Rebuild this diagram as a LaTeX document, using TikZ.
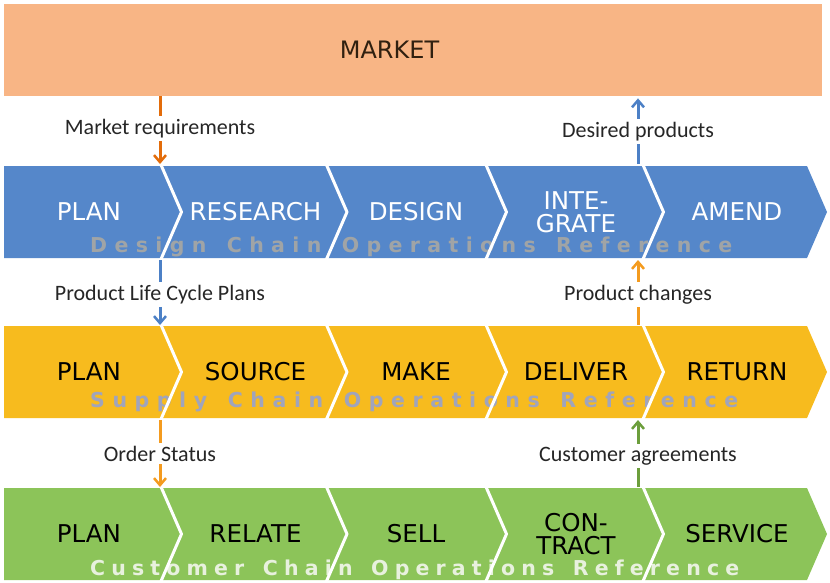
\documentclass[tikz,border=0pt]{standalone}
\usepackage{fontspec}
\setmainfont{Carlito}
\newfontfamily\stagefont{DejaVu Sans}
\newfontfamily\wmfont{DejaVu Sans}[WordSpace=1.4]
\usetikzlibrary{arrows.meta}
\definecolor{marketbg}{HTML}{F8B585}
\definecolor{designbg}{HTML}{5587CA}
\definecolor{supplybg}{HTML}{F7BB1E}
\definecolor{customerbg}{HTML}{8CC459}
\definecolor{wmdesign}{HTML}{A0A4A6}
\definecolor{wmsupply}{HTML}{A0A4BC}
\definecolor{wmcustomer}{HTML}{E8F1DE}
\definecolor{mreqc}{HTML}{E36C0A}
\definecolor{bluearrow}{HTML}{4C80C6}
\definecolor{amberarrow}{HTML}{F49B1F}
\definecolor{greenarrow}{HTML}{6C9E3C}
\begin{document}
\begin{tikzpicture}[x=1pt, y=-1pt, line join=round,
	flow/.style={line width=3pt, -{Straight Barb[length=7pt, width=12pt, line width=2.5pt]}},
	lbl/.style={font=\fontsize{22}{22}\selectfont, text=black!85, inner sep=3pt, anchor=base},
	stage/.style={font=\stagefont\fontsize{24.5}{23}\selectfont, align=center},
	wm/.style={font=\wmfont\bfseries\fontsize{20.5}{20.5}\selectfont, anchor=base west, inner sep=0pt},
	seam/.style={white, line width=3pt}]
	\useasboundingbox (0,0) rectangle (830,582);
	% Market block
	\node[fill=marketbg, minimum width=818pt, minimum height=92pt, inner sep=0pt, anchor=north west] (market) at (4,4) {};
	\node[font=\stagefont\fontsize{24}{24}\selectfont, text=black!75!brown] (mtext) at (389.5,50) {MARKET};
	% The three chains (one arrow band each)
	\fill[designbg] (4,166) -- (807,166) -- (827,212) -- (807,258) -- (4,258) -- cycle;
	\fill[supplybg] (4,326) -- (807,326) -- (827,372) -- (807,418) -- (4,418) -- cycle;
	\fill[customerbg] (4,488) -- (807,488) -- (827,534) -- (807,580) -- (4,580) -- cycle;
	% Faint chain names
	\node[wm, text=wmdesign] (dwm) at (90,252) {\addfontfeature{LetterSpace=36}Design Chain Operations Reference};
	\node[wm, text=wmsupply] (swm) at (90,407) {\addfontfeature{LetterSpace=37}Supply Chain Operations Reference};
	\node[wm, text=wmcustomer] (cwm) at (90,575) {\addfontfeature{LetterSpace=30}Customer Chain Operations Reference};
	% White cuts between the chevrons
	\foreach \s in {161.5, 327, 486.5, 643.5}
		\foreach \t/\b in {166/258, 326/418, 488/580}
			\draw[seam] (\s-1.74,\t-4) -- (\s+20,{(\t+\b)/2}) -- (\s-1.74,\b+4);
	% Design chain steps
	\node[stage, text=white] (dplan) at (89,212) {PLAN};
	\node[stage, text=white] (dres) at (255.5,212) {RESEARCH};
	\node[stage, text=white] (ddes) at (416,212) {DESIGN};
	\node[stage, text=white] (dint) at (576,212) {INTE-\\GRATE};
	\node[stage, text=white] (damd) at (737,212) {AMEND};
	% Supply chain steps
	\node[stage] (splan) at (89,372) {PLAN};
	\node[stage] (ssrc) at (255.5,372) {SOURCE};
	\node[stage] (smake) at (416,372) {MAKE};
	\node[stage] (sdel) at (576,372) {DELIVER};
	\node[stage] (sret) at (737,372) {RETURN};
	% Customer chain steps
	\node[stage] (cplan) at (89,534) {PLAN};
	\node[stage] (crel) at (255.5,534) {RELATE};
	\node[stage] (csell) at (416,534) {SELL};
	\node[stage] (ccon) at (576,534) {CON-\\TRACT};
	\node[stage] (cserv) at (737,534) {SERVICE};
	% Band edges for the flows
	\coordinate (dtop) at (0,164);
	\coordinate (dbot) at (0,260);
	\coordinate (stop) at (0,325);
	\coordinate (sbot) at (0,420);
	\coordinate (ctop) at (0,487);
	% Flows between the blocks
	\node[lbl] (mreq) at (160,134) {Market requirements};
	\node[lbl] (dprod) at (638,137) {Desired products};
	\node[lbl] (plc) at (160,300) {Product Life Cycle Plans};
	\node[lbl] (pchg) at (638,300) {Product changes};
	\node[lbl] (ostat) at (160,461) {Order Status};
	\node[lbl] (cagr) at (638,461) {Customer agreements};
	\draw[flow, mreqc] (market.south -| mreq) -- (mreq) -- (mreq |- dtop);
	\draw[flow, bluearrow] (dprod |- dtop) -- (dprod) -- ([yshift=-2pt]market.south -| dprod);
	\draw[flow, bluearrow] (plc |- dbot) -- (plc) -- (plc |- stop);
	\draw[flow, amberarrow] (pchg |- stop) -- (pchg) -- (pchg |- dbot);
	\draw[flow, amberarrow] (ostat |- sbot) -- (ostat) -- (ostat |- ctop);
	\draw[flow, greenarrow] (cagr |- ctop) -- (cagr) -- (cagr |- sbot);
\end{tikzpicture}
\end{document}
